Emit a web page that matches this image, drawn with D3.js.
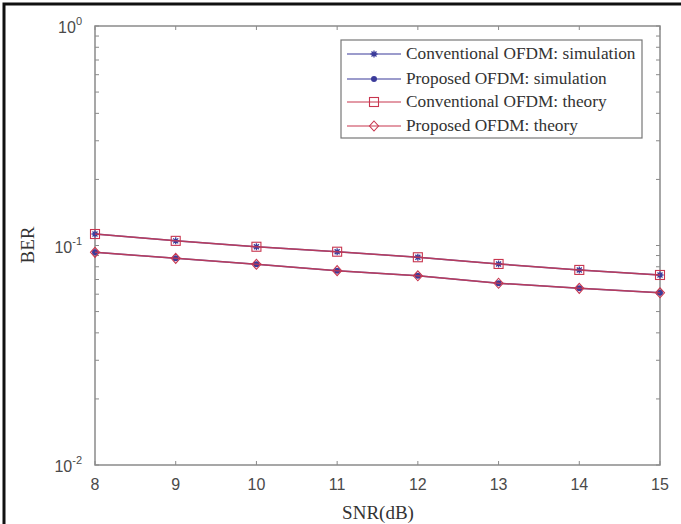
<!DOCTYPE html>
<html><head><meta charset="utf-8">
<script src="https://cdn.jsdelivr.net/npm/d3@7"></script>
<style>body{margin:0;background:#fff}svg{display:block}</style>
</head><body>
<script>
const snr = [8, 9, 10, 11, 12, 13, 14, 15];
const convSim = [0.1128, 0.1050, 0.0987, 0.0937, 0.0884, 0.0824, 0.0774, 0.0734];
const propSim = [0.0931, 0.0874, 0.0821, 0.0768, 0.0728, 0.0673, 0.0638, 0.0609];
const convTheory = [0.1128, 0.1050, 0.0987, 0.0937, 0.0884, 0.0824, 0.0774, 0.0734];
const propTheory = [0.0931, 0.0874, 0.0821, 0.0768, 0.0728, 0.0673, 0.0638, 0.0609];
const seriesNames = ["Conventional OFDM: simulation", "Proposed OFDM: simulation", "Conventional OFDM: theory", "Proposed OFDM: theory"];
const yTickExp = [0, -1, -2];

const W = 681, H = 524;
const m = {left: 95, top: 26, right: 660, bottom: 465};
const svg = d3.select("body").append("svg").attr("width", W).attr("height", H);

// outer frame
svg.append("rect").attr("x", 4).attr("y", 4).attr("width", W + 10).attr("height", H + 10)
  .attr("fill", "none").attr("stroke", "#111").attr("stroke-width", 3);

const x = d3.scaleLinear().domain([8, 15]).range([m.left, m.right]);
const y = d3.scaleLog().domain([0.01, 1]).range([m.bottom, m.top]);

const axisCol = "#8a8a8a";
const g = svg.append("g");

const yTicks = [];
for (let e = -2; e < 0; e++) for (let k = 1; k < 10; k++) yTicks.push(k * Math.pow(10, e));
yTicks.push(1);
yTicks.forEach(v => {
  const len = 4;
  g.append("line").attr("x1", m.left).attr("x2", m.left + len).attr("y1", y(v)).attr("y2", y(v)).attr("stroke", axisCol);
  g.append("line").attr("x1", m.right).attr("x2", m.right - len).attr("y1", y(v)).attr("y2", y(v)).attr("stroke", axisCol);
});
snr.forEach(v => {
  g.append("line").attr("x1", x(v)).attr("x2", x(v)).attr("y1", m.bottom).attr("y2", m.bottom - 4).attr("stroke", axisCol);
  g.append("line").attr("x1", x(v)).attr("x2", x(v)).attr("y1", m.top).attr("y2", m.top + 4).attr("stroke", axisCol);
});
g.append("rect").attr("x", m.left).attr("y", m.top).attr("width", m.right - m.left).attr("height", m.bottom - m.top)
  .attr("fill", "none").attr("stroke", axisCol).attr("stroke-width", 1.5);

const tf = "Liberation Sans, Arial, sans-serif";
snr.forEach(v => {
  svg.append("text").attr("x", x(v)).attr("y", 490).attr("text-anchor", "middle")
    .attr("font-family", tf).attr("font-size", 16).attr("fill", "#4a4a4a").text(v);
});
yTickExp.forEach(e => {
  const t = svg.append("text").attr("x", m.left - 13).attr("y", y(Math.pow(10, e)) + 7).attr("text-anchor", "end")
    .attr("font-family", tf).attr("font-size", 16).attr("fill", "#4a4a4a");
  t.append("tspan").text("10");
  t.append("tspan").attr("dy", -8).attr("font-size", 11).text(e);
});

const sf = "Liberation Serif, Times New Roman, serif";
svg.append("text").attr("x", 378).attr("y", 519).attr("text-anchor", "middle")
  .attr("font-family", sf).attr("font-size", 19).attr("fill", "#333").text("SNR(dB)");
svg.append("text").attr("transform", "translate(34,245) rotate(-90)").attr("text-anchor", "middle")
  .attr("font-family", sf).attr("font-size", 19).attr("fill", "#333").text("BER");

const line = d3.line().x((d, i) => x(snr[i])).y(d => y(d));
const blue = "#3b3b9a", red = "#c8364f";

function drawMarker(sel, type, cx, cy, col) {
  if (type === "star") {
    sel.append("path").attr("d", `M${cx-3.5},${cy}H${cx+3.5}M${cx},${cy-3.5}V${cy+3.5}M${cx-2.5},${cy-2.5}L${cx+2.5},${cy+2.5}M${cx-2.5},${cy+2.5}L${cx+2.5},${cy-2.5}`)
      .attr("stroke", col).attr("stroke-width", 1.3).attr("fill", "none");
  } else if (type === "dot") {
    sel.append("circle").attr("cx", cx).attr("cy", cy).attr("r", 3).attr("fill", col);
  } else if (type === "square") {
    sel.append("rect").attr("x", cx - 4.5).attr("y", cy - 4.5).attr("width", 9).attr("height", 9)
      .attr("fill", "none").attr("stroke", col).attr("stroke-width", 1.1);
  } else if (type === "diamond") {
    sel.append("path").attr("d", `M${cx},${cy-5}L${cx+4.5},${cy}L${cx},${cy+5}L${cx-4.5},${cy}Z`)
      .attr("fill", "none").attr("stroke", col).attr("stroke-width", 1.1);
  }
}

const series = [
  {vals: convSim, col: blue, mk: "star"},
  {vals: propSim, col: blue, mk: "dot"},
  {vals: convTheory, col: red, mk: "square"},
  {vals: propTheory, col: red, mk: "diamond"}
];
series.forEach(s => {
  svg.append("path").attr("d", line(s.vals)).attr("fill", "none").attr("stroke", s.col).attr("stroke-width", 1.5).attr("opacity", 0.85);
  s.vals.forEach((v, i) => drawMarker(svg, s.mk, x(snr[i]), y(v), s.col));
});

const lg = svg.append("g");
lg.append("rect").attr("x", 341).attr("y", 40).attr("width", 301).attr("height", 98)
  .attr("fill", "#fff").attr("stroke", "#777").attr("stroke-width", 1.2);
const rowY = [54, 79, 102, 126];
series.forEach((s, i) => {
  lg.append("line").attr("x1", 347).attr("x2", 401).attr("y1", rowY[i]).attr("y2", rowY[i]).attr("stroke", s.col).attr("stroke-width", 1.1);
  drawMarker(lg, s.mk, 374, rowY[i], s.col);
  lg.append("text").attr("x", 406).attr("y", rowY[i] + 5).attr("font-family", sf)
    .attr("font-size", 17.3).attr("fill", "#333").text(seriesNames[i]);
});
</script>
</body></html>
